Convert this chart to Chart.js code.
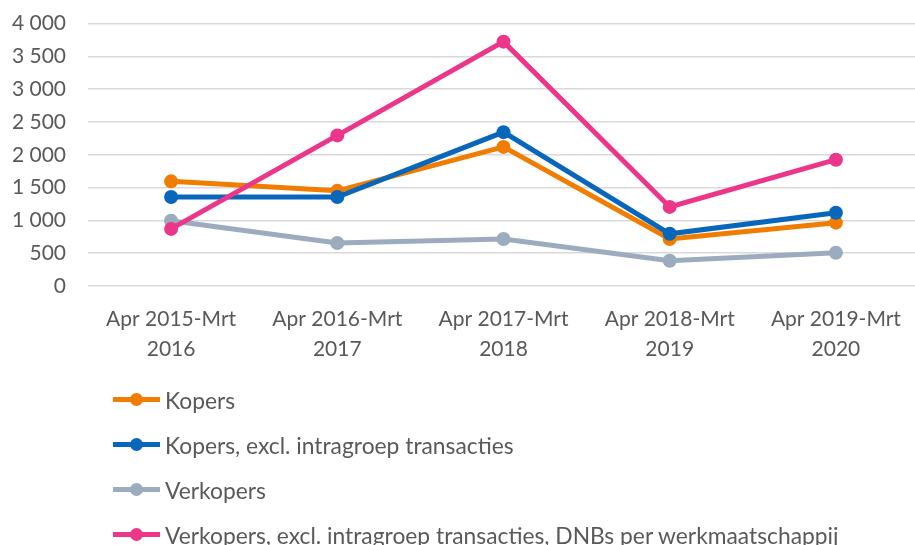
<!DOCTYPE html>
<html>
<head>
<meta charset="utf-8">
<script src="https://cdn.jsdelivr.net/npm/chart.js@4"></script>
<style>
  body { margin: 0; background: #fff; font-family: Lato, sans-serif; }
  #wrap { position: relative; width: 915px; height: 545px; overflow: hidden; }
  #chartBox { position: absolute; left: 0; top: -11px; width: 926px; height: 393px; }
  #legend { position: absolute; left: 113px; top: 377px; }
  .item { display: flex; align-items: center; height: 45px; font-size: 22.8px; color: #595959; white-space: nowrap; }
  .mark { position: relative; width: 47px; height: 5px; margin-right: 5px; flex: none; }
  .mark span { position: absolute; left: 17px; top: -4px; width: 13px; height: 13px; border-radius: 50%; }
</style>
</head>
<body>
<div id="wrap">
  <div id="chartBox"><canvas id="marketChart"></canvas></div>
  <div id="legend"></div>
</div>
<script>
// Periods
const periods = [
    ["Apr 2015-Mrt", "2016"],
    ["Apr 2016-Mrt", "2017"],
    ["Apr 2017-Mrt", "2018"],
    ["Apr 2018-Mrt", "2019"],
    ["Apr 2019-Mrt", "2020"],
];

// Series values
const kopers = [1595, 1450, 2120, 715, 965];
const kopersExcl = [1355, 1355, 2345, 795, 1115];
const verkopers = [995, 655, 715, 385, 505];
const verkopersExcl = [870, 2295, 3725, 1205, 1925];

const seriesNames = [
    "Kopers",
    "Kopers, excl. intragroep transacties",
    "Verkopers",
    "Verkopers, excl. intragroep transacties, DNBs per werkmaatschappij",
];
const seriesColors = ["#F07D00", "#0866BB", "#9AACBD", "#EC368A"];

function spaced(v) {
    return String(v).replace(/\B(?=(\d{3})+(?!\d))/g, " ");
}

const seriesData = [kopers, kopersExcl, verkopers, verkopersExcl];
const drawOrder = [4, 3, 2, 1];

const ctx = document.getElementById("marketChart").getContext("2d");
const chart = new Chart(ctx, {
    type: "line",
    data: {
        labels: periods,
        datasets: seriesData.map((d, i) => ({
            label: seriesNames[i],
            data: d,
            borderColor: seriesColors[i],
            backgroundColor: seriesColors[i],
            borderWidth: 5,
            pointRadius: 7,
            pointHoverRadius: 7,
            pointBorderWidth: 0,
            tension: 0,
            order: drawOrder[i],
        })),
    },
    options: {
        responsive: true,
        maintainAspectRatio: false,
        animation: false,
        layout: { padding: { top: 1, right: 0, left: 0, bottom: 0 } },
        plugins: {
            legend: { display: false },
            tooltip: { enabled: false },
        },
        scales: {
            x: {
                offset: true,
                grid: { display: false, drawTicks: false },
                border: { display: false },
                ticks: {
                    color: "#595959",
                    font: { family: "Lato", size: 21, lineHeight: 1.43 },
                    maxRotation: 0,
                    padding: 18,
                },
            },
            y: {
                min: 0,
                max: 4000,
                grid: { color: "#D9D9D9", lineWidth: 1.5, drawTicks: false },
                border: { display: false },
                ticks: {
                    stepSize: 500,
                    color: "#595959",
                    font: { family: "Lato", size: 21 },
                    padding: 22,
                    callback: (v) => spaced(v),
                },
                afterFit: (scale) => { scale.width = 88; },
            },
        },
    },
});

// Legend
const legendEl = document.getElementById("legend");
seriesNames.forEach((name, i) => {
    const row = document.createElement("div");
    row.className = "item";
    row.innerHTML = '<div class="mark" style="background:' + seriesColors[i] + '"><span style="background:' + seriesColors[i] + '"></span></div>' + name;
    legendEl.appendChild(row);
});
</script>
</body>
</html>
